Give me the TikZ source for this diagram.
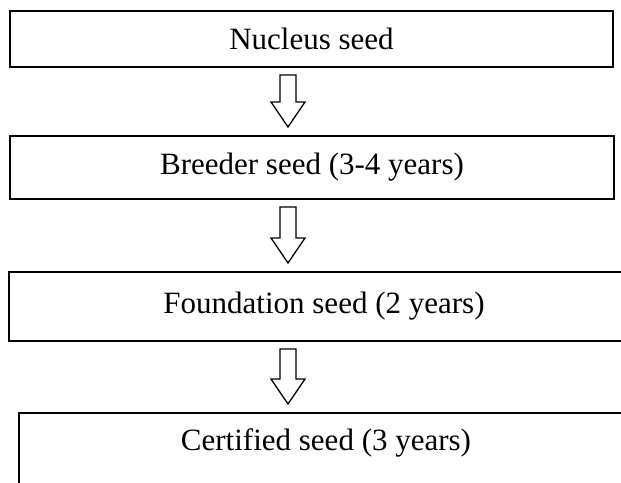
\documentclass[tikz,border=0pt]{standalone}
\usepackage{fontspec}
\setmainfont{Liberation Serif}
\usetikzlibrary{calc}
\tikzset{
  seedbox/.style={draw=black,line width=2pt,inner sep=0pt,
                  font=\fontsize{31}{37}\selectfont},
  hollow/.style={draw=black,line width=1.3pt,line join=miter,to path={
      ($(\tikztostart)+(-8,-7)$) -- ($(\tikztotarget)+(-8,33)$)
      -- ($(\tikztotarget)+(-17,33)$) -- ($(\tikztotarget)+(0,8)$)
      -- ($(\tikztotarget)+(17,33)$) -- ($(\tikztotarget)+(8,33)$)
      -- ($(\tikztostart)+(8,-7)$) -- cycle}},
}

\begin{document}
\begin{tikzpicture}[x=1pt,y=1pt]
  \path[use as bounding box] (0,0) rectangle (621,482);
  \clip (0,0) rectangle (621,482);
  \coordinate (ax) at (288,0);

  \node[seedbox,minimum width=603,minimum height=56] (nucleus) at (311.5,443) {Nucleus seed};
  \node[seedbox,minimum width=604,minimum height=63] (breeder) at (312,314.5) {Breeder seed (3-4 years)};
  \node[seedbox,minimum width=630,minimum height=69] (foundation) at (324,175.5) {Foundation seed (2 years)};
  \node[seedbox,minimum width=614,inner ysep=16pt,text height=22pt,text depth=60pt,anchor=north]
    (certified) at (326,70) {Certified seed (3 years)};

  \draw[hollow] (nucleus.south -| ax) to (breeder.north -| ax);
  \draw[hollow] (breeder.south -| ax) to (foundation.north -| ax);
  \draw[hollow] (foundation.south -| ax) to (certified.north -| ax);
\end{tikzpicture}
\end{document}
